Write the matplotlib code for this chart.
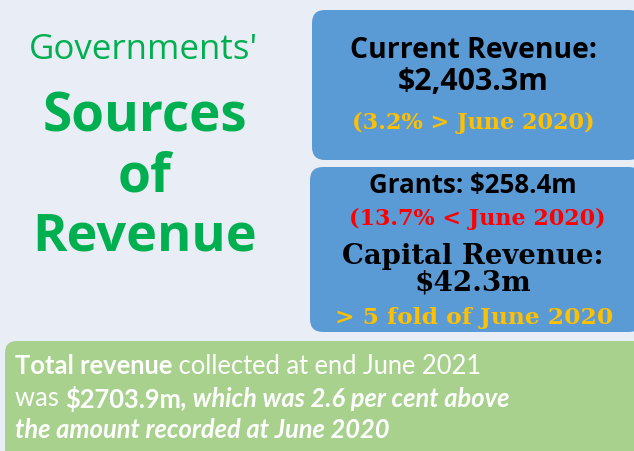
import matplotlib
matplotlib.use("Agg")
import matplotlib.pyplot as plt
from matplotlib.patches import FancyBboxPatch

# text content of the infographic
title_lines = ["Governments'", "Sources", "of", "Revenue"]
current_label = "Current Revenue:"
current_value = "$2,403.3m"
current_change = "(3.2% > June 2020)"
grants_text = "Grants: $258.4m"
grants_change = "(13.7% < June 2020)"
capital_label = "Capital Revenue:"
capital_value = "$42.3m"
capital_change = "> 5 fold of June 2020"
summary_lines = [
    [("Total revenue", "bold", "normal"), (" collected at end June 2021", "normal", "normal")],
    [("was ", "normal", "normal"), ("$2703.9m", "bold", "normal"),
     (", which was 2.6 per cent above", "bold", "italic")],
    [("the amount recorded at June 2020", "bold", "italic")],
]

SANS = ["Open Sans", "DejaVu Sans"]
BODY = ["Lato", "DejaVu Sans"]
SERIF = ["DejaVu Serif"]
BG = "#E9EDF5"
BLUE = "#5B9BD5"
GREEN_BOX = "#A9D18E"
GREEN_TXT = "#00B050"
GOLD = "#FFC000"

fig = plt.figure(figsize=(6.34, 4.51), dpi=100)
fig.patch.set_facecolor(BG)
ax = fig.add_axes([0, 0, 1, 1])
ax.set_xlim(0, 634)
ax.set_ylim(451, 0)
ax.axis("off")
renderer = fig.canvas.get_renderer()


def fit_text(cx, cy, s, width, family, color, weight="bold", style="normal"):
    # draw centred text sized so it spans the given pixel width
    t = ax.text(cx, cy, s, ha="center", va="center", family=family, fontsize=10,
                fontweight=weight, fontstyle=style, color=color)
    w = t.get_window_extent(renderer).width
    t.set_fontsize(10 * width / w)
    return t


# boxes
ax.add_patch(FancyBboxPatch((312, 10), 330, 150, boxstyle="round,pad=0,rounding_size=13",
                            fc=BLUE, ec="none"))
ax.add_patch(FancyBboxPatch((310, 167), 332, 165, boxstyle="round,pad=0,rounding_size=13",
                            fc=BLUE, ec="none"))
ax.add_patch(FancyBboxPatch((5, 341), 640, 120, boxstyle="round,pad=0,rounding_size=12",
                            fc=GREEN_BOX, ec="none"))

# left title
fit_text(143, 50, title_lines[0], 228, SANS, GREEN_TXT, weight="normal")
fit_text(145, 118, title_lines[1], 205, SANS, GREEN_TXT)
fit_text(145, 177, title_lines[2], 54, SANS, GREEN_TXT)
fit_text(145, 237, title_lines[3], 225, SANS, GREEN_TXT)

# box 1
fit_text(474, 51, current_label, 248, SANS, "black")
fit_text(473, 82, current_value, 150, SANS, "black")
fit_text(473, 123, current_change, 243, SERIF, GOLD)

# box 2
fit_text(473, 185, grants_text, 207, SANS, "black")
fit_text(477, 219, grants_change, 257, SERIF, "red")
fit_text(473, 257, capital_label, 263, SERIF, "black")
fit_text(473, 283, capital_value, 117, SERIF, "black")
fit_text(474, 318, capital_change, 278, SERIF, GOLD)

# bottom summary with mixed styles
for line, y in zip(summary_lines, [366, 399, 430]):
    x = 15
    for seg, weight, style in line:
        t = ax.text(x, y, seg, ha="left", va="center", family=BODY, fontsize=18.4,
                    fontweight=weight, fontstyle=style, color="white")
        x += t.get_window_extent(renderer).width

fig.savefig("out.png", dpi=100, facecolor=BG)
